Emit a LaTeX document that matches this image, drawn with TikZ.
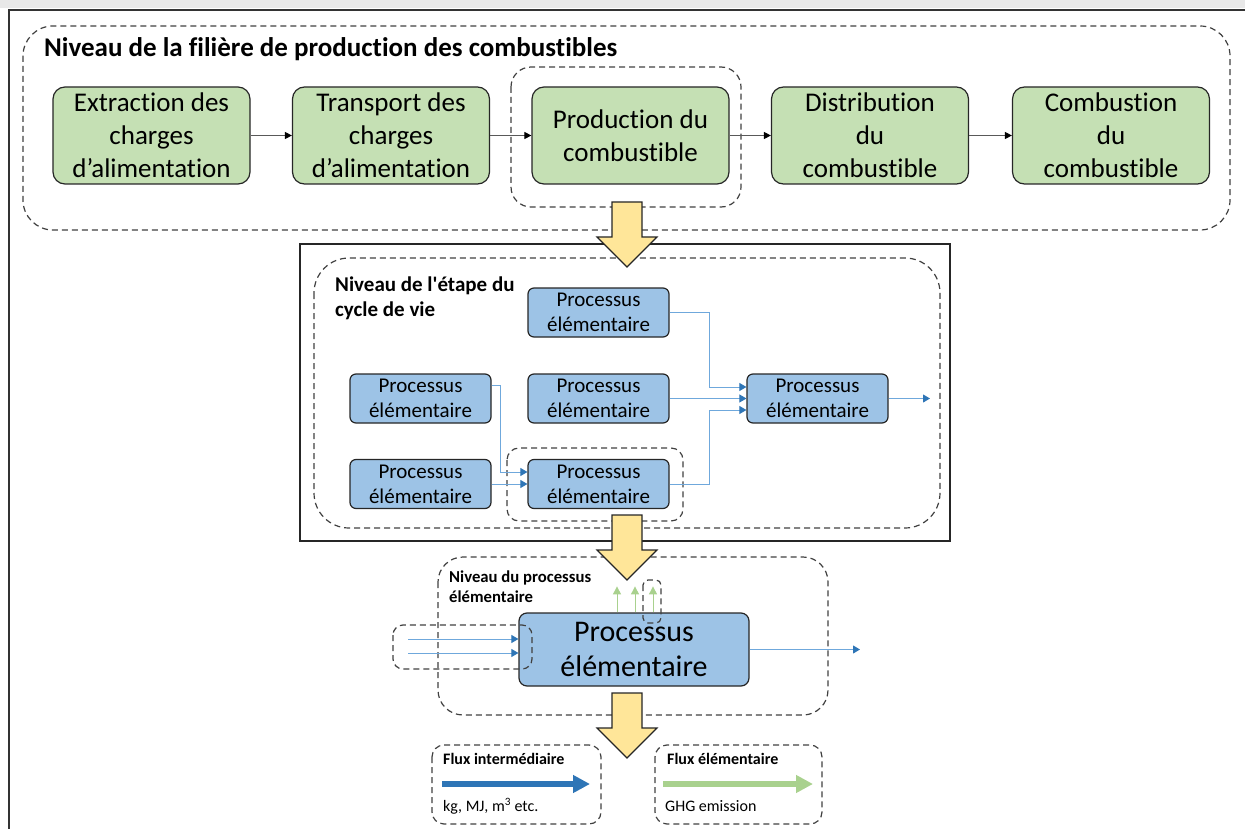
\documentclass[tikz,border=0pt]{standalone}
\usepackage{fontspec}
\setmainfont{Carlito}[Ligatures=NoCommon]
\usetikzlibrary{arrows.meta}
\definecolor{stagefill}{HTML}{C5E0B4}
\definecolor{procfill}{HTML}{9DC3E6}
\definecolor{boxline}{HTML}{262626}
\definecolor{dashline}{HTML}{404040}
\definecolor{flowline}{HTML}{6FA8DC}
\definecolor{flowhead}{HTML}{2E75B6}
\definecolor{emitgreen}{HTML}{A9D18E}
\definecolor{bigarrow}{HTML}{FFE699}

\begin{document}
\begin{tikzpicture}[x=1pt, y=-1pt,
    stage/.style={draw=boxline, line width=1.2pt, fill=stagefill, rounded corners=12pt, minimum width=197pt, minimum height=97pt, align=center, inner sep=1pt, font=\fontsize{27}{33}\selectfont},
    proc/.style={draw=boxline, line width=1.2pt, fill=procfill, rounded corners=6pt, minimum width=141pt, minimum height=49pt, align=center, inner sep=1pt, font=\fontsize{21}{25}\selectfont},
    level/.style={draw=dashline, line width=1.2pt, dash pattern=on 6pt off 4pt},
    chain/.style={draw=gray!70!black, line width=1pt, -{Triangle[length=7pt,width=7pt,color=black]}},
    flow/.style={draw=flowline, line width=1pt, -{Triangle[length=7pt,width=8pt,color=flowhead]}},
    emission/.style={draw=emitgreen, line width=1pt, -{Triangle[length=8pt,width=8pt]}},
    fat arrow/.style={draw=boxline, line width=1.2pt, fill=bigarrow, line join=miter},
    caption/.style={inner sep=0pt, align=left, font=\bfseries#1}]
    \useasboundingbox (0,0) rectangle (1245,829);

    % screenshot frame
    \fill[gray!18] (0,0) rectangle (1245,8);
    \draw[line width=2pt, gray!40!black] (9,829) -- (9,10) -- (1245,10);

    % level frames
    \draw[level, rounded corners=30pt] (23,26) rectangle (1230,230);
    \draw[level, rounded corners=20pt] (511,67) rectangle (741,207);
    \draw[line width=1.3pt, boxline] (300,244) rectangle (950,541);
    \draw[level, rounded corners=35pt] (314,258) rectangle (940,528);
    \draw[level, rounded corners=12pt] (507,448) rectangle (683,521);
    \draw[level, rounded corners=25pt] (438,557) rectangle (828,715);
    \draw[level, rounded corners=12pt] (432,745) rectangle (601,824);
    \draw[level, rounded corners=12pt] (655,745) rectangle (822,824);

    % fuel chain
    \node[caption={\fontsize{27}{33}\selectfont}, anchor=west] (Chain Title) at (44,49) {Niveau de la filière de production des combustibles};
    \node[stage] (Extraction) at (151.5,135.5) {Extraction des\\charges\\d’alimentation};
    \node[stage] (Transport) at (391,135.5) {Transport des\\charges\\d’alimentation};
    \node[stage] (Production) at (630.5,135.5) {Production du\\combustible};
    \node[stage] (Distribution) at (870,135.5) {Distribution\\du\\combustible};
    \node[stage] (Combustion) at (1111,135.5) {Combustion\\du\\combustible};

    \draw[chain] (Extraction) -- (Transport);
    \draw[chain] (Transport) -- (Production);
    \draw[chain] (Production) -- (Distribution);
    \draw[chain] (Distribution) -- (Combustion);

    % life cycle stage
    \node[caption={\fontsize{21}{25}\selectfont}, anchor=west] (Stage Title) at (335,298.5) {Niveau de l\textquotesingle étape du\\cycle de vie};
    \node[proc] (Proc top) at (598.5,312.5) {Processus\\élémentaire};
    \node[proc] (Proc left) at (420.5,398.5) {Processus\\élémentaire};
    \node[proc] (Proc mid) at (598.5,398.5) {Processus\\élémentaire};
    \node[proc] (Proc out) at (817.5,398.5) {Processus\\élémentaire};
    \node[proc] (Proc low left) at (420.5,484) {Processus\\élémentaire};
    \node[proc] (Proc low) at (598.5,484) {Processus\\élémentaire};
    \coordinate (Stage end) at (930,398.5);

    \draw[flow] (Proc top.east) -- ++(40,0) |- ([yshift=11.5pt]Proc out.west);
    \draw[flow] (Proc mid.east) -- (Proc out.west);
    \draw[flow] (Proc low.east) -- ++(40,0) |- ([yshift=-11.5pt]Proc out.west);
    \draw[flow] ([yshift=13.5pt]Proc left.east) -- ++(9,0) |- ([yshift=12pt]Proc low.west);
    \draw[flow] (Proc low left.east) -- (Proc low.west);
    \draw[flow] (Proc out.east) -- (Stage end);

    % unit process
    \node[caption={\fontsize{16.7}{20}\selectfont}, anchor=west] (Unit Title) at (449,587) {Niveau du processus\\élémentaire};
    \node[proc, rounded corners=8pt, minimum width=230pt, minimum height=73pt, font=\fontsize{30}{35}\selectfont] (Unit Process) at (634,649.5) {Processus\\élémentaire};
    \coordinate (In a) at (408,639);
    \coordinate (In b) at (408,653);
    \coordinate (Unit end) at (860,649.5);

    \draw[flow] (In a) -- (In a -| Unit Process.west);
    \draw[flow] (In b) -- (In b -| Unit Process.west);
    \draw[flow] (Unit Process.east) -- (Unit end);
    \draw[emission] ([xshift=-17pt]Unit Process.north) -- ++(0,-26);
    \draw[emission] ([xshift=1pt]Unit Process.north) -- ++(0,-26);
    \draw[emission] ([xshift=19pt]Unit Process.north) -- ++(0,-26);

    \draw[level, rounded corners=10pt] (393,625) rectangle (532,669);
    \draw[level, rounded corners=5pt] (643,580) rectangle (661,623);

    % legend
    \node[caption={\fontsize{16}{19}\selectfont}, anchor=west] (Flux inter) at (443,759) {Flux intermédiaire};
    \node[inner sep=0pt, anchor=west, font=\fontsize{16}{19}\selectfont] (Units) at (443,806) {kg, MJ, m\textsuperscript{3} etc.};
    \node[caption={\fontsize{16}{19}\selectfont}, anchor=west] (Flux elem) at (667,759) {Flux élémentaire};
    \node[inner sep=0pt, anchor=west, font=\fontsize{16}{19}\selectfont] (GHG) at (665,806) {GHG emission};
    \coordinate (Blue a) at (442,784);
    \coordinate (Blue b) at (590,784);
    \coordinate (Green a) at (663,784);
    \coordinate (Green b) at (813,784);
    \draw[flowhead, line width=5.5pt, -{Triangle[length=17pt,width=17pt]}] (Blue a) -- (Blue b);
    \draw[emitgreen, line width=5.5pt, -{Triangle[length=17pt,width=17pt]}] (Green a) -- (Green b);

    % level-to-level arrows
    \foreach \t in {202,515,693}
        \draw[fat arrow] (612,\t) -- (642,\t) -- (642,\t+35) -- (657,\t+35) -- (627,\t+65) -- (597,\t+35) -- (612,\t+35) -- cycle;
\end{tikzpicture}
\end{document}
